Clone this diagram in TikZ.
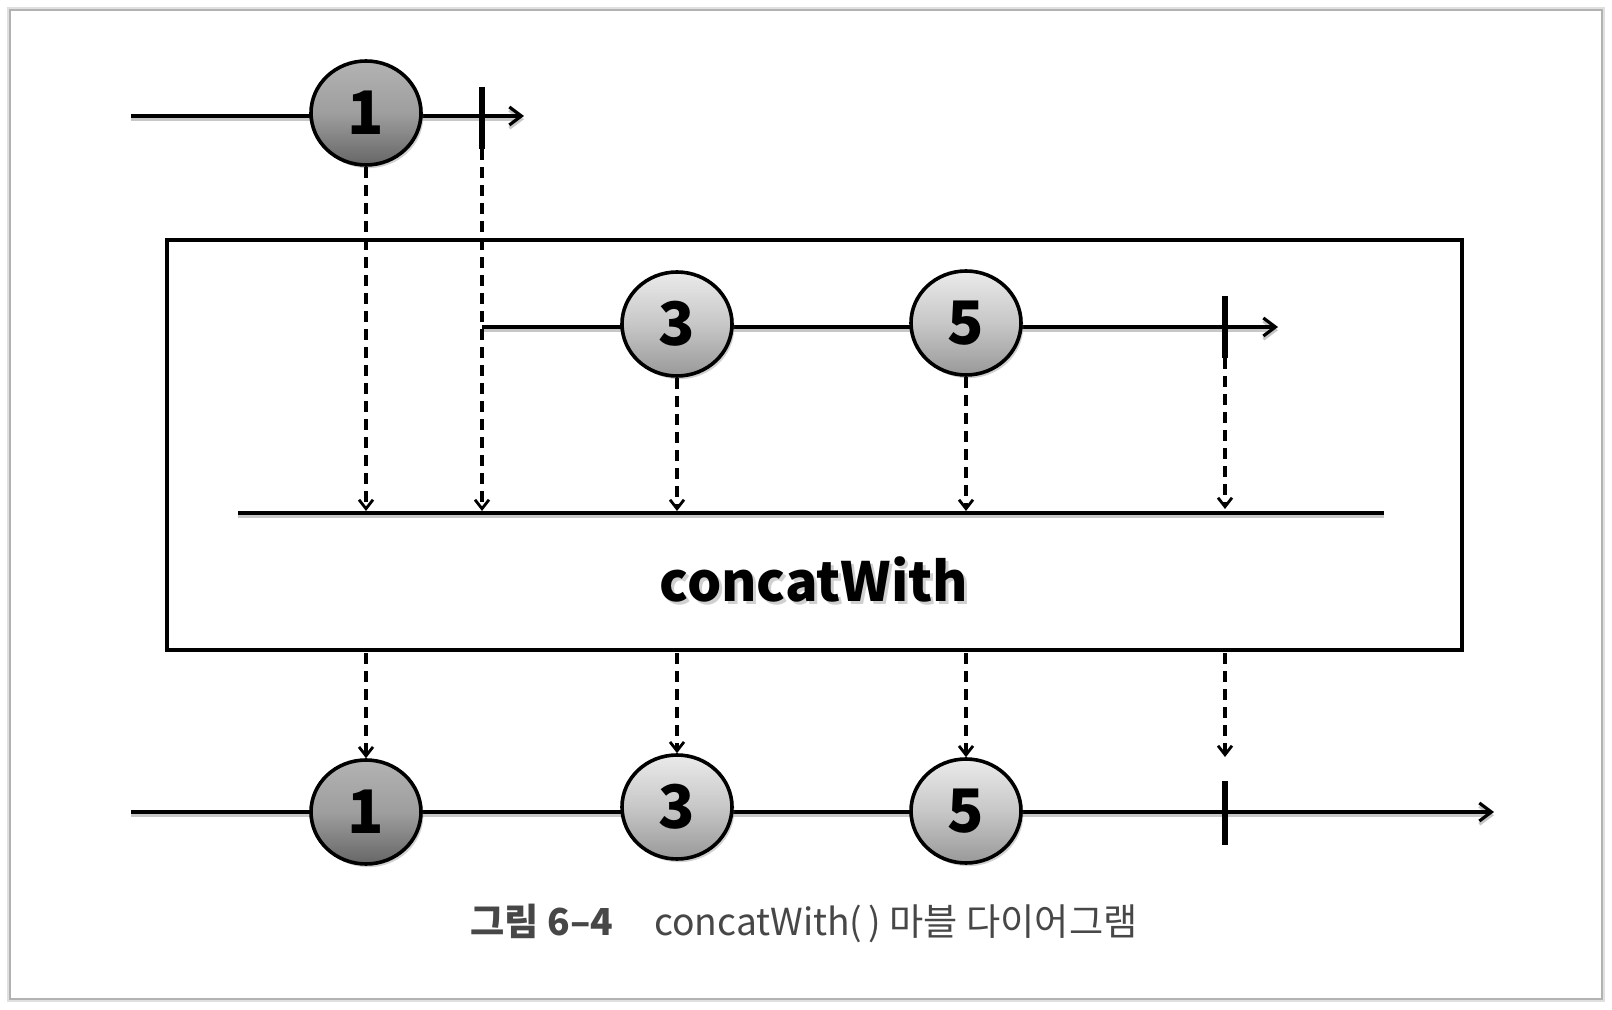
\documentclass[tikz,border=0pt]{standalone}
\usepackage{fontspec}
\newfontfamily\kr{Noto Sans CJK KR}
\usetikzlibrary{arrows.meta,shapes.geometric,shadows}
\begin{document}
\begin{tikzpicture}[x=0.5pt,y=-0.5pt,
  tl/.style={line width=2pt, black, preaction={draw=black!22, line width=2pt, transform canvas={yshift=-1.6pt}}},
  tlarrow/.style={tl, -{Straight Barb[length=6pt,width=9pt,line width=1.6pt]}},
  tickline/.style={line width=2.6pt, black},
  dashconn/.style={line width=1.6pt, black, dash pattern=on 5.5pt off 3.5pt, -{Straight Barb[length=4.5pt,width=7pt,line width=1.4pt]}},
  marble/.style={ellipse, draw=black, line width=1.8pt, minimum width=55pt, minimum height=52pt, inner sep=0pt,
     font=\kr\bfseries\fontsize{30}{30}\selectfont,
     drop shadow={shadow xshift=1.2pt, shadow yshift=-1.6pt, opacity=0.35}},
  darkm/.style={marble, top color=black!30, bottom color=black!60, middle color=black!38},
  lightm/.style={marble, top color=black!8, bottom color=black!40, middle color=black!22},
  opbox/.style={draw=black, line width=2pt, minimum width=647.5pt, minimum height=205pt, inner sep=0pt,
     drop shadow={shadow xshift=1.2pt, shadow yshift=-1.2pt, opacity=0.3}, fill=white},
  optext/.style={font=\kr\bfseries\fontsize{27}{27}\selectfont},
  caption/.style={font=\kr\fontsize{18.6}{18.6}\selectfont, text=black!72}
]
\useasboundingbox (0,0) rectangle (1612,1010);
\fill[white] (0,0) rectangle (1612,1010);
% outer frame
\draw[black!12, line width=3pt] (10,10) rectangle (1602,999);
\draw[black!30, line width=0.9pt, fill=white] (10,10) rectangle (1602,999);

% operator box
\node[opbox] (op) at (814.5,445) {};

% coordinates
\coordinate (a0) at (131,116);
\coordinate (a1) at (524,116);
\coordinate (tk1a) at (482,87);
\coordinate (tk1b) at (482,149);
\coordinate (b0) at (482,327);
\coordinate (b1) at (1278,327);
\coordinate (tk2a) at (1225,296);
\coordinate (tk2b) at (1225,358);
\coordinate (c0) at (238,513);
\coordinate (c1) at (1384,513);
\coordinate (d0) at (131,812);
\coordinate (d1) at (1494,812);
\coordinate (tk3a) at (1225,781);
\coordinate (tk3b) at (1225,845);

% timelines
\draw[tlarrow] (a0) -- (a1);
\draw[tlarrow] (b0) -- (b1);
\draw[tl] (c0) -- (c1);
\draw[tlarrow] (d0) -- (d1);

% ticks
\draw[tickline] (tk1a) -- (tk1b);
\draw[tickline] (tk2a) -- (tk2b);
\draw[tickline] (tk3a) -- (tk3b);

% marbles
\node[darkm] (t1) at (366,113) {1};
\node[lightm] (m3) at (677,324) {3};
\node[lightm] (m5) at (966,323) {5};
\node[darkm] (r1) at (366,812) {1};
\node[lightm] (r3) at (677,807) {3};
\node[lightm] (r5) at (966,811) {5};

% operator label
\node[optext, text=black!30, opacity=0.6] (opshadow) at (817,582) {concatWith};
\node[optext] (oplabel) at (814,579) {concatWith};

% dashed connectors into operator line
\coordinate (e1) at (366,511);
\coordinate (e2) at (482,511);
\coordinate (e3) at (677,511);
\coordinate (e5) at (966,511);
\coordinate (e6) at (1225,509);
\draw[dashconn] (t1.south) -- (e1);
\draw[dashconn] (tk1b) -- (e2);
\draw[dashconn] (m3.south) -- (e3);
\draw[dashconn] (m5.south) -- (e5);
\draw[dashconn] (tk2b) -- (e6);

% dashed connectors out of operator box
\coordinate (f1) at (366,653);
\coordinate (f3) at (677,653);
\coordinate (f5) at (966,653);
\coordinate (f6) at (1225,653);
\coordinate (g6) at (1225,757);
\draw[dashconn] (f1) -- (r1.north);
\draw[dashconn] (f3) -- (r3.north);
\draw[dashconn] (f5) -- (r5.north);
\draw[dashconn] (f6) -- (g6);

% caption
\node[caption] (cap) at (804,923) {\textbf{그림 6–4}\hspace{1.1em}concatWith(\,) 마블 다이어그램};
\end{tikzpicture}
\end{document}
